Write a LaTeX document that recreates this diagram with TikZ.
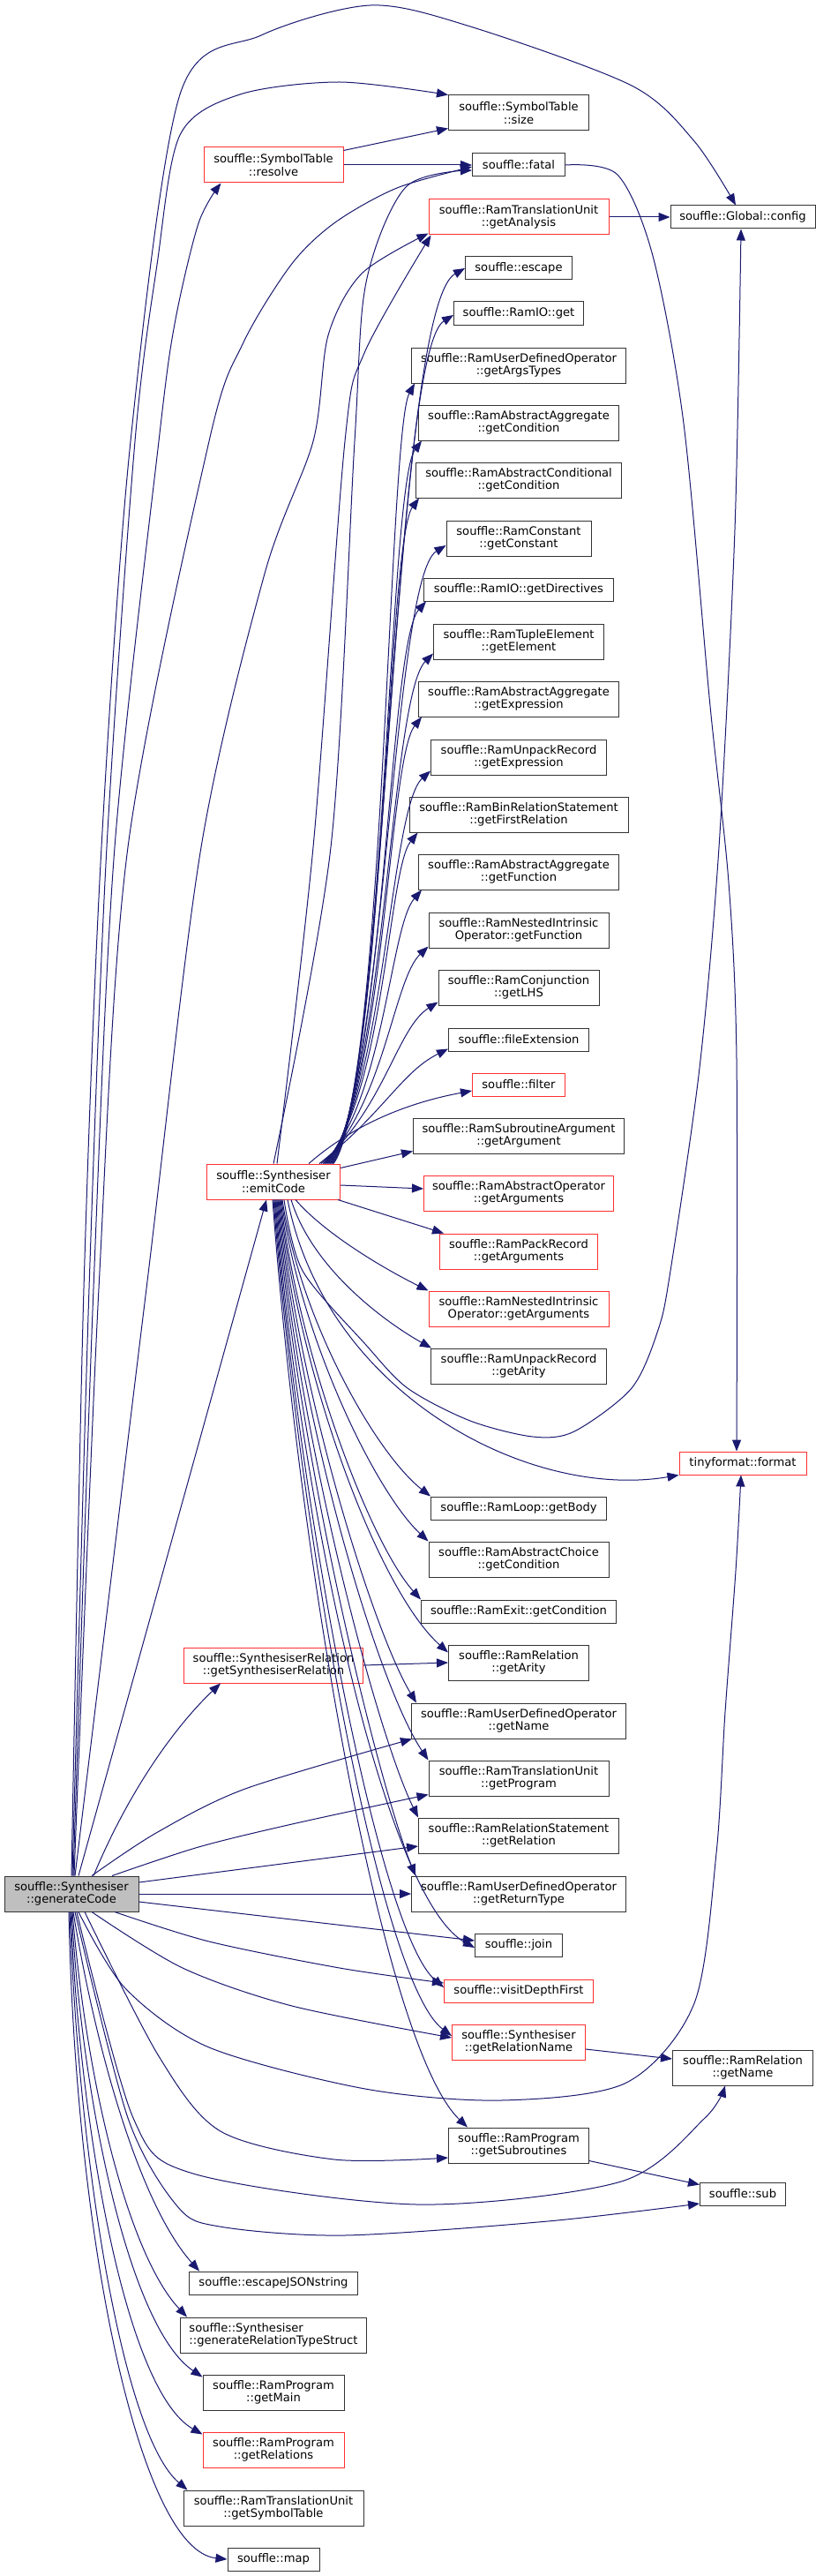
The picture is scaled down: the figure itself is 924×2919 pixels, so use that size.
\documentclass[tikz,border=0pt]{standalone}
\usepackage{fontspec}
\setmainfont{DejaVu Sans}
\usetikzlibrary{arrows.meta}
\definecolor{eb}{HTML}{191970}
\definecolor{gfill}{HTML}{BFBFBF}
\definecolor{rb}{HTML}{FF3030}
\newcommand\gf{\fontsize{13.1}{14.6}\selectfont}
\newcommand\N[7]{\node[#6,minimum width=#4pt,minimum height=#5pt] (#1) at (#2,#3) {#7};}
\begin{document}
\begin{tikzpicture}[x=1pt,y=-1pt,
  nb/.style={draw=black!80, line width=1pt, fill=white, inner sep=0pt, align=center, font=\gf, text=black},
  rb/.style={nb, draw=rb},
  gb/.style={nb, fill=gfill},
  e/.style={draw=eb, line width=1pt, -{Triangle[length=13pt,width=10pt]}},
]
\fill[white] (0,0) rectangle (924,2919);
\useasboundingbox (0,0) rectangle (924,2919);

% ---------- nodes ----------
\N{size}{588}{128}{159}{40}{nb}{souffle::SymbolTable\\::size}
\N{resolve}{310}{187}{158}{40}{rb}{souffle::SymbolTable\\::resolve}
\N{fatal}{588}{187}{105}{26}{nb}{souffle::fatal}
\N{gA}{588}{246}{204}{40}{rb}{souffle::RamTranslationUnit\\::getAnalysis}
\N{config}{842}{246}{164}{26}{nb}{souffle::Global::config}
\N{esc}{588}{304}{121}{26}{nb}{souffle::escape}
\N{rio}{588}{355}{147}{26}{nb}{souffle::RamIO::get}
\N{gAT}{588}{414}{243}{40}{nb}{souffle::RamUserDefinedOperator\\::getArgsTypes}
\N{aaC}{588}{479}{227}{40}{nb}{souffle::RamAbstractAggregate\\::getCondition}
\N{acC}{588}{544}{233}{40}{nb}{souffle::RamAbstractConditional\\::getCondition}
\N{gCo}{588}{610}{164}{40}{nb}{souffle::RamConstant\\::getConstant}
\N{gDi}{588}{668}{215}{26}{nb}{souffle::RamIO::getDirectives}
\N{gEl}{588}{727}{193}{40}{nb}{souffle::RamTupleElement\\::getElement}
\N{aaE}{588}{792}{227}{40}{nb}{souffle::RamAbstractAggregate\\::getExpression}
\N{urE}{588}{858}{199}{40}{nb}{souffle::RamUnpackRecord\\::getExpression}
\N{gFR}{588}{923}{248}{40}{nb}{souffle::RamBinRelationStatement\\::getFirstRelation}
\N{aaF}{588}{988}{227}{40}{nb}{souffle::RamAbstractAggregate\\::getFunction}
\N{nioF}{588}{1054}{204}{40}{nb}{souffle::RamNestedIntrinsic\\Operator::getFunction}
\N{gLHS}{588}{1119}{182}{40}{nb}{souffle::RamConjunction\\::getLHS}
\N{fExt}{588}{1178}{159}{26}{nb}{souffle::fileExtension}
\N{filt}{588}{1229}{105}{26}{rb}{souffle::filter}
\N{gArg}{588}{1287}{239}{40}{nb}{souffle::RamSubroutineArgument\\::getArgument}
\N{E}{310}{1339}{151}{40}{rb}{souffle::Synthesiser\\::emitCode}
\N{aoA}{588}{1352}{215}{40}{rb}{souffle::RamAbstractOperator\\::getArguments}
\N{prA}{588}{1418}{179}{40}{rb}{souffle::RamPackRecord\\::getArguments}
\N{nioA}{588}{1483}{204}{40}{rb}{souffle::RamNestedIntrinsic\\Operator::getArguments}
\N{urA}{588}{1548}{199}{40}{nb}{souffle::RamUnpackRecord\\::getArity}
\N{fmt}{842}{1658}{144}{26}{rb}{tinyformat::format}
\N{gBody}{588}{1709}{199}{26}{nb}{souffle::RamLoop::getBody}
\N{achC}{588}{1767}{204}{40}{nb}{souffle::RamAbstractChoice\\::getCondition}
\N{exC}{588}{1826}{221}{26}{nb}{souffle::RamExit::getCondition}
\N{rGA}{588}{1884}{159}{40}{nb}{souffle::RamRelation\\::getArity}
\N{gSR}{310}{1887}{203}{40}{rb}{souffle::SynthesiserRelation\\::getSynthesiserRelation}
\N{gN}{588}{1950}{243}{40}{nb}{souffle::RamUserDefinedOperator\\::getName}
\N{gP}{588}{2015}{204}{40}{nb}{souffle::RamTranslationUnit\\::getProgram}
\N{gR}{588}{2080}{227}{40}{nb}{souffle::RamRelationStatement\\::getRelation}
\N{gRT}{588}{2146}{243}{40}{nb}{souffle::RamUserDefinedOperator\\::getReturnType}
\N{G}{81}{2146}{152}{40}{gb}{souffle::Synthesiser\\::generateCode}
\N{join}{588}{2204}{99}{26}{nb}{souffle::join}
\N{vDF}{588}{2256}{169}{26}{rb}{souffle::visitDepthFirst}
\N{gRN}{588}{2314}{151}{40}{rb}{souffle::Synthesiser\\::getRelationName}
\N{rGN}{842}{2343}{159}{40}{nb}{souffle::RamRelation\\::getName}
\N{gSub}{588}{2431}{159}{40}{nb}{souffle::RamProgram\\::getSubroutines}
\N{sub}{842}{2486}{97}{26}{nb}{souffle::sub}
\N{eJS}{310}{2587}{191}{26}{nb}{souffle::escapeJSONstring}
\N{gRTS}{310}{2646}{211}{40}{nb,align=left}{souffle::Synthesiser\\::generateRelationTypeStruct}
\N{gMain}{310}{2711}{160}{40}{nb}{souffle::RamProgram\\::getMain}
\N{gRels}{310}{2776}{160}{40}{rb}{souffle::RamProgram\\::getRelations}
\N{gST}{310}{2842}{204}{40}{nb}{souffle::RamTranslationUnit\\::getSymbolTable}
\N{map}{310}{2900}{104}{26}{nb}{souffle::map}

% ---------- straight edges ----------
\draw[e] ([yshift=-4pt]resolve.north east) -- ([yshift=3pt]size.south west);
\draw[e] (resolve.east) -- (fatal.west);
\draw[e] (gA.east) -- (config.west);
\draw[e] (gSR.east) -- (rGA.west);
\draw[e] ([yshift=-8pt]gRN.east) -- ([yshift=10pt]rGN.west);
\draw[e] ([yshift=3pt]gSub.south east) -- ([yshift=-3pt]sub.north west);
\draw[e] ([yshift=-5pt]E.north east) -- ([yshift=3pt]gArg.south west);
\draw[e] ([yshift=-4pt]E.east) -- ([yshift=5pt]aoA.west);
\draw[e] ([xshift=-3pt]E.south east) -- ([xshift=5pt]prA.north west);

% ---------- generateCode upward ----------
\draw[e] plot[smooth,tension=0.5] coordinates {(G.north) (95,1460) (115,960) (148,500) (204,107) (296,40) (420,6) (533,30) (716,97) (787,160) ([xshift=-8pt]config.north)};
\draw[e] plot[smooth,tension=0.5] coordinates {([xshift=1pt]G.north) (101,1460) (121,960) (153,500) (178,300) (204,153) (272,107) (385,93) (size.north west)};
\draw[e] plot[smooth,tension=0.5] coordinates {([xshift=2pt]G.north) (106,1460) (130,960) (180,500) (198,367) (225,253) ([xshift=20pt]resolve.south west)};
\draw[e] plot[smooth,tension=0.5] coordinates {([xshift=3pt]G.north) (112,1460) (145,960) (237,500) (275,390) (330,300) (380,252) (450,213) ([yshift=-2pt]fatal.west)};
\draw[e] plot[smooth,tension=0.5] coordinates {([xshift=4pt]G.north) (166,1460) (228,960) (300,650) (355,500) (372,380) (410,310) ([yshift=2pt]gA.south west)};
\draw[e] ([xshift=8pt]G.north) -- ([xshift=-8pt]E.south);
\draw[e] ([xshift=25pt]G.north) .. controls (150,2020) and (205,1950) .. ([xshift=-60pt]gSR.south);

% ---------- generateCode to the right ----------
\draw[e] plot[smooth,tension=0.5] coordinates {([xshift=23pt]G.north) (177,2077) (278,2027) ([xshift=1pt]gN.south west)};
\draw[e] plot[smooth,tension=0.5] coordinates {([xshift=46pt]G.north) (225,2093) (331,2067) ([yshift=2pt]gP.south west)};
\draw[e] ([yshift=13pt]G.east) -- ([yshift=-12pt]gR.west);
\draw[e] (G.east) -- (gRT.west);
\draw[e] ([yshift=-9pt]G.east) -- ([yshift=5pt]join.west);
\draw[e] plot[smooth,tension=0.5] coordinates {([xshift=49pt]G.south) (237,2200) (385,2230) ([yshift=9pt]vDF.west)};
\draw[e] plot[smooth,tension=0.5] coordinates {([xshift=23pt]G.south) (207,2230) (331,2273) ([yshift=5pt]gRN.west)};
\draw[e] plot[smooth,tension=0.5] coordinates {([xshift=8pt]G.south) (142,2253) (237,2320) (414,2367) (568,2380) (710,2360) (787,2270) (812,2100) (822,1940) (834,1780) ([xshift=-2pt]fmt.south)};
\draw[e] plot[smooth,tension=0.5] coordinates {([xshift=15pt]G.south) (180,2330) (250,2415) (379,2447) ([yshift=-14pt]gSub.west)};
\draw[e] plot[smooth,tension=0.5] coordinates {([xshift=6pt]G.south) (151,2400) (219,2463) (473,2498) (704,2472) (799,2400) ([xshift=-20pt]rGN.south)};
\draw[e] plot[smooth,tension=0.5] coordinates {([xshift=4pt]G.south) (145,2400) (201,2500) (249,2523) (390,2533) (621,2517) ([yshift=-11pt]sub.west)};
\draw[e] ([xshift=2pt]G.south) .. controls (110,2330) and (160,2500) .. ([xshift=12pt]eJS.north west);
\draw[e] ([xshift=1pt]G.south) .. controls (100,2380) and (150,2560) .. ([xshift=8pt]gRTS.north west);
\draw[e] (G.south) .. controls (95,2400) and (150,2640) .. ([yshift=-3pt]gMain.north west);
\draw[e] ([xshift=-1pt]G.south) .. controls (92,2430) and (145,2710) .. ([yshift=-3pt]gRels.north west);
\draw[e] ([xshift=-2pt]G.south) .. controls (90,2460) and (140,2760) .. ([xshift=5pt]gST.north west);
\draw[e] ([xshift=-3pt]G.south) .. controls (86,2550) and (160,2890) .. (map.west);

% ---------- emitCode upward ----------
\draw[e] plot[smooth,tension=0.5] coordinates {(E.north) (375,960) (402,500) (415,320) (460,212) ([yshift=-6pt]fatal.west)};
\draw[e] plot[smooth,tension=0.5] coordinates {([xshift=4pt]E.north) (355,960) (391,500) (413,400) ([xshift=3pt]gA.south west)};
\draw[e] ([xshift=-8pt]E.north east) .. controls (438,1240) and (445,350) .. (esc.west);
\draw[e] ([xshift=-9pt]E.north east) .. controls (438,1240) and (445,400) .. ([yshift=-2pt]rio.west);
\draw[e] ([xshift=-10pt]E.north east) .. controls (436,1240) and (440,490) .. ([xshift=4pt]gAT.south west);
\draw[e] ([xshift=-11pt]E.north east) .. controls (436,1240) and (440,550) .. ([xshift=4pt]aaC.south west);
\draw[e] ([xshift=-12pt]E.north east) .. controls (436,1240) and (438,615) .. ([xshift=4pt]acC.south west);
\draw[e] ([xshift=-13pt]E.north east) .. controls (436,1240) and (445,655) .. ([yshift=-8pt]gCo.west);
\draw[e] ([xshift=-14pt]E.north east) .. controls (436,1240) and (440,730) .. ([xshift=3pt]gDi.south west);
\draw[e] ([xshift=-15pt]E.north east) .. controls (436,1240) and (442,790) .. ([yshift=7pt]gEl.south west);
\draw[e] ([xshift=-16pt]E.north east) .. controls (436,1240) and (440,860) .. ([xshift=4pt]aaE.south west);
\draw[e] ([xshift=-17pt]E.north east) .. controls (436,1240) and (442,915) .. ([yshift=5pt]urE.south west);
\draw[e] ([xshift=-18pt]E.north east) .. controls (436,1240) and (440,985) .. ([xshift=10pt]gFR.south west);
\draw[e] ([xshift=-19pt]E.north east) .. controls (436,1245) and (442,1050) .. ([xshift=4pt]aaF.south west);
\draw[e] ([xshift=-20pt]E.north east) .. controls (436,1250) and (446,1110) .. ([yshift=2pt]nioF.south west);
\draw[e] ([xshift=-22pt]E.north east) .. controls (436,1255) and (450,1165) .. ([yshift=4pt]gLHS.south west);
\draw[e] ([xshift=-24pt]E.north east) .. controls (436,1260) and (455,1215) .. ([yshift=3pt]fExt.south west);
\draw[e] ([xshift=-36pt]E.north east) .. controls (400,1275) and (460,1250) .. ([yshift=-7pt]filt.west);

% ---------- emitCode downward ----------
\draw[e] ([xshift=25pt]E.south) .. controls (370,1400) and (440,1440) .. (nioA.north west);
\draw[e] ([xshift=20pt]E.south) .. controls (355,1440) and (440,1500) .. ([xshift=1pt]urA.north west);
\draw[e] ([xshift=16pt]E.south) .. controls (370,1580) and (600,1700) .. (fmt.south west);
\draw[e] plot[smooth,tension=0.5] coordinates {([xshift=12pt]E.south) (343,1440) (414,1523) (462,1573) (533,1610) (604,1628) (651,1622) (716,1573) (746,1507) (760,1440) (793,1210) (815,960) (833,600) ([xshift=-2pt]config.south)};
\draw[e] plot[smooth,tension=0.5] coordinates {(fatal.east) (700,198) (740,290) (775,480) (805,800) (826,1000) (835,1200) ([xshift=-7pt]fmt.north)};
\draw[e] ([xshift=10pt]E.south) .. controls (340,1494) and (425,1646) .. (gBody.north west);
\draw[e] ([xshift=9pt]E.south) .. controls (340,1514) and (425,1690) .. (achC.north west);
\draw[e] ([xshift=8pt]E.south) .. controls (340,1541) and (420,1749) .. (exC.north west);
\draw[e] ([xshift=7pt]E.south) .. controls (340,1565) and (430,1803) .. ([yshift=-9pt]rGA.north west);
\draw[e] ([xshift=6pt]E.south) .. controls (340,1587) and (425,1852) .. ([xshift=6pt]gN.north west);
\draw[e] ([xshift=5pt]E.south) .. controls (340,1613) and (428,1909) .. (gP.north west);
\draw[e] ([xshift=4pt]E.south) .. controls (340,1639) and (428,1966) .. (gR.north west);
\draw[e] ([xshift=3pt]E.south) .. controls (340,1666) and (430,2024) .. ([xshift=5pt]gRT.north west);
\draw[e] ([xshift=2pt]E.south) .. controls (340,1698) and (435,2150) .. ([yshift=-3pt]join.west);
\draw[e] ([xshift=1pt]E.south) .. controls (340,1716) and (430,2190) .. ([yshift=4pt]vDF.west);
\draw[e] (E.south) .. controls (340,1738) and (430,2245) .. ([yshift=7pt]gRN.west);
\draw[e] ([xshift=-1pt]E.south) .. controls (340,1780) and (435,2320) .. ([xshift=22pt]gSub.north west);
\end{tikzpicture}
\end{document}
